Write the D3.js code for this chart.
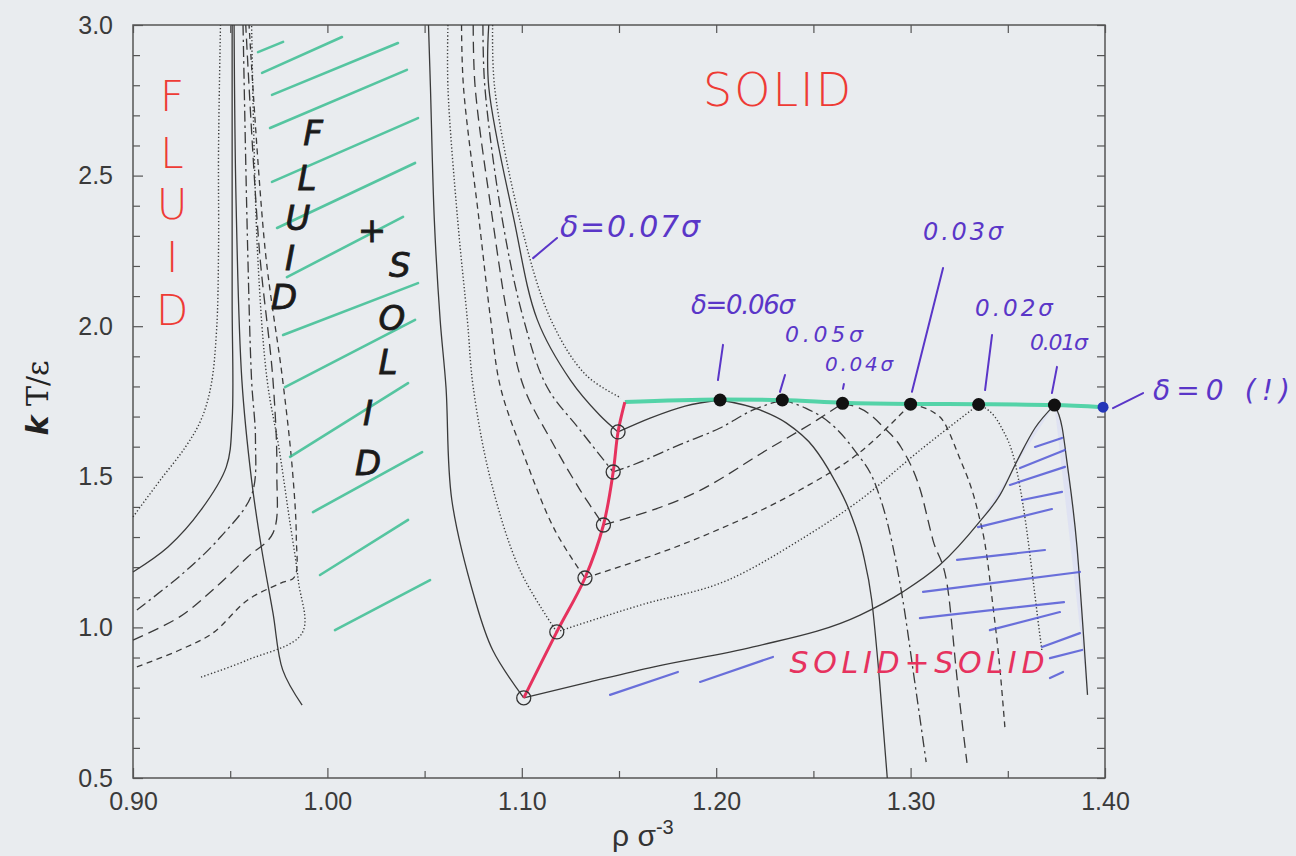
<!DOCTYPE html>
<html>
<head>
<meta charset="utf-8">
<script src="https://cdn.jsdelivr.net/npm/d3@7"></script>
<style>
  body { margin: 0; background: #e9ecef; }
  svg { display: block; }
</style>
</head>
<body>
<div id="chart"></div>
<script>
// ---- axis ticks ----
var xMajor = [0.90, 1.00, 1.10, 1.20, 1.30, 1.40];
var xMinor = [0.95, 1.05, 1.15, 1.25, 1.35];
var yMajor = [0.5, 1.0, 1.5, 2.0, 2.5, 3.0];
var yMinor = [0.6, 0.7, 0.8, 0.9, 1.1, 1.2, 1.3, 1.4, 1.6, 1.7, 1.8, 1.9, 2.1, 2.2, 2.3, 2.4, 2.6, 2.7, 2.8, 2.9];

// ---- fluid / fluid+solid boundaries (rho, T) ----
var fluid07 = [[0.900,1.367],[0.914,1.489],[0.927,1.599],[0.935,1.689],[0.940,1.798],[0.943,1.987],[0.944,2.253],[0.944,2.585],[0.945,3.0]];
var fluid06 = [[0.900,1.184],[0.918,1.267],[0.935,1.390],[0.948,1.533],[0.951,1.689],[0.951,2.087],[0.951,3.0]];
var fluid05 = [[0.902,1.058],[0.926,1.181],[0.945,1.300],[0.961,1.440],[0.963,1.622],[0.961,1.821],[0.959,2.253],[0.9566,3.0]];
var fluid04 = [[0.900,0.958],[0.924,1.035],[0.941,1.124],[0.959,1.234],[0.972,1.313],[0.974,1.513],[0.972,1.821],[0.965,2.253],[0.958,3.0]];
var fluid03 = [[0.902,0.869],[0.924,0.925],[0.941,0.981],[0.959,1.091],[0.976,1.147],[0.983,1.167],[0.984,1.300],[0.982,1.523],[0.977,1.821],[0.968,2.253],[0.9597,3.0]];
var fluid02 = [[0.935,0.835],[0.959,0.892],[0.987,0.981],[0.985,1.157],[0.980,1.380],[0.975,1.599],[0.969,1.821],[0.964,2.253],[0.961,3.0]];
var fluid01 = [[0.952,3.0],[0.953,2.419],[0.956,1.821],[0.961,1.489],[0.966,1.267],[0.972,1.048],[0.977,0.859],[0.987,0.742]];

// ---- solid boundaries coming down from the top ----
var mid01 = [[1.052,3.0],[1.053,2.794],[1.055,2.353],[1.058,2.021],[1.061,1.798],[1.064,1.423],[1.076,1.091],[1.085,0.925],[1.101,0.766]];
var mid02 = [[1.062,3.0],[1.062,2.794],[1.067,2.353],[1.072,2.021],[1.075,1.798],[1.084,1.489],[1.099,1.191],[1.118,0.985]];
var mid03 = [[1.069,3.0],[1.070,2.794],[1.078,2.353],[1.084,2.021],[1.089,1.798],[1.102,1.556],[1.117,1.323],[1.1325,1.164]];
var mid04 = [[1.075,3.0],[1.076,2.794],[1.085,2.353],[1.093,2.021],[1.101,1.798],[1.115,1.622],[1.130,1.456],[1.142,1.340]];
var mid05 = [[1.080,3.0],[1.081,2.794],[1.090,2.353],[1.101,2.021],[1.113,1.798],[1.130,1.655],[1.147,1.516]];
var mid06 = [[1.083,3.0],[1.083,2.794],[1.096,2.353],[1.108,2.021],[1.125,1.821],[1.140,1.705],[1.1495,1.649]];
var mid07 = [[1.085,3.0],[1.086,2.794],[1.099,2.353],[1.115,2.021],[1.133,1.838],[1.151,1.762]];

// ---- solid+solid dome, left branches (triple point -> critical point) ----
var low06 = [[1.1495,1.649],[1.166,1.695],[1.184,1.735],[1.202,1.755]];
var low05 = [[1.147,1.516],[1.157,1.539],[1.181,1.606],[1.202,1.662],[1.219,1.722],[1.234,1.755]];
var low04 = [[1.142,1.340],[1.192,1.456],[1.226,1.589],[1.252,1.689],[1.265,1.744]];
var low03 = [[1.1325,1.164],[1.192,1.300],[1.243,1.456],[1.274,1.582],[1.300,1.741]];
var low02 = [[1.118,0.985],[1.161,1.074],[1.206,1.157],[1.243,1.290],[1.274,1.423],[1.305,1.589],[1.335,1.740]];
var low01 = [[1.101,0.766],[1.135,0.819],[1.168,0.869],[1.219,0.935],[1.274,1.041],[1.296,1.118],[1.315,1.207],[1.335,1.347],[1.346,1.440],[1.355,1.556],[1.364,1.662],[1.374,1.738]];

// ---- right branches (critical point -> down) ----
var high06 = [[1.202,1.755],[1.2225,1.722],[1.236,1.679],[1.250,1.599],[1.260,1.499],[1.269,1.380],[1.2755,1.247],[1.280,1.091],[1.284,0.825],[1.288,0.5]];
var high05 = [[1.234,1.755],[1.246,1.728],[1.2585,1.679],[1.271,1.589],[1.282,1.473],[1.289,1.323],[1.296,1.091],[1.302,0.825],[1.308,0.553]];
var high04 = [[1.265,1.744],[1.278,1.712],[1.286,1.665],[1.295,1.599],[1.305,1.456],[1.3115,1.290],[1.319,1.134],[1.324,0.825],[1.329,0.550]];
var high03 = [[1.300,1.741],[1.315,1.699],[1.325,1.566],[1.334,1.400],[1.339,1.247],[1.342,1.091],[1.346,0.859],[1.3485,0.669]];
var high02 = [[1.335,1.740],[1.346,1.672],[1.354,1.539],[1.359,1.357],[1.363,1.157],[1.3655,1.025],[1.3675,0.925]];
var high01 = [[1.374,1.738],[1.378,1.662],[1.3805,1.546],[1.3856,1.267],[1.389,0.968],[1.391,0.776]];

// ---- triple points (red line) and critical points (green line) ----
var tripleRho = [1.101, 1.118, 1.1325, 1.142, 1.147, 1.1495, 1.153];
var tripleT   = [0.766, 0.985, 1.164, 1.340, 1.516, 1.649, 1.748];
var critRho = [1.202, 1.234, 1.265, 1.300, 1.335, 1.374];
var critT   = [1.755, 1.755, 1.744, 1.741, 1.740, 1.738];
var greenRho = [1.153, 1.202, 1.234, 1.265, 1.300, 1.335, 1.374, 1.399];
var greenT   = [1.748, 1.757, 1.755, 1.746, 1.742, 1.741, 1.738, 1.731];
var zeroRho = 1.399, zeroT = 1.731;

// ---- hand-drawn hatching (rho0, T0, rho1, T1) ----
var greenHatch = [
  [0.9643,2.910,0.9772,2.944],[0.9664,2.841,1.0075,2.960],[0.9715,2.768,1.0363,2.940],
  [0.9705,2.658,1.0409,2.851],[0.9715,2.479,1.0466,2.691],[0.9741,2.326,1.0451,2.542],
  [0.9792,2.163,1.0389,2.363],[0.9772,1.971,1.0466,2.143],[0.9782,1.798,1.0451,2.021],
  [0.9808,1.566,1.0415,1.811],[0.9926,1.383,1.0487,1.582],[0.9962,1.174,1.0415,1.357],
  [1.0039,0.991,1.0528,1.157]
];
var blueHatch = [
  [1.364,1.599,1.3779,1.629],[1.3563,1.529,1.3794,1.589],[1.3511,1.473,1.3794,1.533],
  [1.3573,1.423,1.3779,1.450],[1.3347,1.333,1.3727,1.393],[1.3239,1.224,1.3691,1.257],
  [1.3064,1.118,1.3871,1.184],[1.3048,1.031,1.3789,1.084],[1.3408,0.991,1.3768,1.051],
  [1.3676,0.935,1.3871,0.981],[1.3717,0.898,1.3882,0.925],[1.3717,0.832,1.3784,0.852],
  [1.1454,0.776,1.1803,0.852],[1.1917,0.819,1.2292,0.902]
];

// ---- delta labels ----
var deltaText = ["δ=0.07σ", "δ=0.06σ", "0.05σ", "0.04σ", "0.03σ", "0.02σ", "0.01σ", "δ=0 (!)"];
var deltaAt   = [[1.1196,2.296],[1.187,2.040],[1.2354,1.948],[1.2560,1.852],[1.3064,2.286],[1.3331,2.034],[1.3614,1.921],[1.4247,1.755]];
var deltaLen  = [140, 104, 78, 68, 80, 78, 58, 137];
var deltaSize = [30, 26, 22, 20, 24, 23, 22, 28];
var leaders = [
  [1.1058,2.226,1.1181,2.293],[1.2009,1.821,1.2035,1.938],[1.2328,1.782,1.2354,1.838],
  [1.2652,1.792,1.2657,1.808],[1.3007,1.782,1.3167,2.193],[1.3383,1.788,1.3419,1.971],
  [1.3727,1.778,1.3753,1.865],[1.4041,1.728,1.4196,1.778]
];

var W = 1296, H = 856;
var x = d3.scaleLinear().domain([0.9, 1.4]).range([133, 1105]);
var y = d3.scaleLinear().domain([0.5, 3.0]).range([778, 25]);

var svg = d3.select("#chart").append("svg").attr("width", W).attr("height", H);
svg.append("rect").attr("width", W).attr("height", H).attr("fill", "#e9ecef");

// axes
function styleAxis(g){
  g.select(".domain").remove();
  g.selectAll(".tick line").attr("stroke", "#555").attr("stroke-width", 1.2);
  g.selectAll(".tick text").attr("fill", "#3a3a3a").style("font-family", "'Liberation Sans', Arial, sans-serif").style("font-size", "25px");
}
svg.append("g").attr("transform", "translate(0," + y(0.5) + ")")
  .call(d3.axisBottom(x).tickValues(xMajor).tickSize(-10).tickPadding(14).tickFormat(d3.format(".2f"))).call(styleAxis);
svg.append("g").attr("transform", "translate(0," + y(0.5) + ")")
  .call(d3.axisBottom(x).tickValues(xMinor).tickSize(-7).tickFormat("")).call(styleAxis);
svg.append("g").attr("transform", "translate(0," + y(3.0) + ")")
  .call(d3.axisTop(x).tickValues(xMajor.concat(xMinor)).tickSize(-8).tickFormat("")).call(styleAxis);
svg.append("g").attr("transform", "translate(" + x(0.9) + ",0)")
  .call(d3.axisLeft(y).tickValues(yMajor).tickSize(-10).tickPadding(20).tickFormat(d3.format(".1f"))).call(styleAxis);
svg.append("g").attr("transform", "translate(" + x(0.9) + ",0)")
  .call(d3.axisLeft(y).tickValues(yMinor).tickSize(-7).tickFormat("")).call(styleAxis);
svg.append("g").attr("transform", "translate(" + x(1.4) + ",0)")
  .call(d3.axisRight(y).tickValues(yMajor.concat(yMinor)).tickSize(-8).tickFormat("")).call(styleAxis);

svg.append("rect")
  .attr("x", x(0.9)).attr("y", y(3.0))
  .attr("width", x(1.4) - x(0.9)).attr("height", y(0.5) - y(3.0))
  .attr("fill", "none").attr("stroke", "#555").attr("stroke-width", 1.5);

// axis titles
svg.append("text").attr("x", 612).attr("y", 846)
  .style("font-family", "'Liberation Sans', Arial, sans-serif").style("font-size", "30px").attr("fill", "#333")
  .text("ρ σ").append("tspan").attr("dy", -12).style("font-size", "20px").text("-3");
svg.append("text").attr("transform", "translate(48,398) rotate(-90)").attr("text-anchor", "middle")
  .style("font-family", "'DejaVu Serif', serif").style("font-size", "30px").attr("fill", "#222")
  .html("<tspan font-style='italic' font-family='DejaVu Sans' font-weight='bold'>k</tspan> T/ε");

// light tint of the hatched solid+solid area
var shade = low01.slice(7).concat(high01.slice().reverse());
svg.append("path").attr("d", d3.line().x(function(d){ return x(d[0]); }).y(function(d){ return y(d[1]); })(shade) + "Z")
  .attr("fill", "#d9dcf4").attr("opacity", 0.6);

// curves
var dash = { solid: null, dotted: "1.3,2.2", dash: "6,4.5", longdash: "11,6", dashdot: "11,4,2.5,4" };
var curves = [
  [fluid07,"dotted",0],[fluid06,"solid",0],[fluid05,"dashdot",0],[fluid04,"longdash",0],[fluid03,"dash",0],[fluid02,"dotted",0],[fluid01,"solid",0],
  [mid01,"solid",0],[mid02,"dotted",0],[mid03,"dash",0],[mid04,"longdash",0],[mid05,"dashdot",0],[mid06,"solid",0],[mid07,"dotted",0],
  [low06,"solid",1],[low05,"dashdot",1],[low04,"longdash",1],[low03,"dash",1],[low02,"dotted",1],[low01,"solid",1],
  [high06,"solid",1],[high05,"dashdot",1],[high04,"longdash",1],[high03,"dash",1],[high02,"dotted",1],[high01,"solid",1]
];
var lineC = d3.line().x(function(d){ return x(d[0]); }).y(function(d){ return y(d[1]); })
  .curve(d3.curveCatmullRom.alpha(0.5));
var lineM = d3.line().x(function(d){ return x(d[0]); }).y(function(d){ return y(d[1]); })
  .curve(d3.curveMonotoneX);
svg.append("g").selectAll("path").data(curves).enter().append("path")
  .attr("d", function(d){ return d[2] ? lineM(d[0]) : lineC(d[0]); })
  .attr("fill", "none").attr("stroke", "#3a3a3a")
  .attr("stroke-width", function(d){ return d[1] === "dotted" ? 1.4 : 1.3; })
  .attr("stroke-dasharray", function(d){ return dash[d[1]]; });

// hatching
svg.append("g").selectAll("line").data(greenHatch).enter().append("line")
  .attr("x1", function(d){ return x(d[0]); }).attr("y1", function(d){ return y(d[1]); })
  .attr("x2", function(d){ return x(d[2]); }).attr("y2", function(d){ return y(d[3]); })
  .attr("stroke", "#3cbf93").attr("stroke-width", 2.6).attr("stroke-linecap", "round").attr("opacity", 0.85);
svg.append("g").selectAll("line").data(blueHatch).enter().append("line")
  .attr("x1", function(d){ return x(d[0]); }).attr("y1", function(d){ return y(d[1]); })
  .attr("x2", function(d){ return x(d[2]); }).attr("y2", function(d){ return y(d[3]); })
  .attr("stroke", "#4a50d6").attr("stroke-width", 2.2).attr("stroke-linecap", "round").attr("opacity", 0.8);

// green critical line
svg.append("path").attr("d", lineM(d3.zip(greenRho, greenT)))
  .attr("fill", "none").attr("stroke", "#44d0a0").attr("stroke-width", 4).attr("opacity", 0.9);

// red triple line
svg.append("path").attr("d", lineC(d3.zip(tripleRho, tripleT)))
  .attr("fill", "none").attr("stroke", "#e6325e").attr("stroke-width", 3);
svg.append("g").selectAll("circle").data(d3.zip(tripleRho, tripleT).slice(0, 6)).enter().append("circle")
  .attr("cx", function(d){ return x(d[0]); }).attr("cy", function(d){ return y(d[1]); }).attr("r", 7)
  .attr("fill", "none").attr("stroke", "#333").attr("stroke-width", 1.3);

// critical points
svg.append("g").selectAll("circle").data(d3.zip(critRho, critT)).enter().append("circle")
  .attr("cx", function(d){ return x(d[0]); }).attr("cy", function(d){ return y(d[1]); }).attr("r", 6.5)
  .attr("fill", "#111");
svg.append("circle").attr("cx", x(zeroRho)).attr("cy", y(zeroT)).attr("r", 5.5).attr("fill", "#2436b8");

// handwritten annotations
var hand = "'DejaVu Sans', sans-serif";
var redLetters = ["F","L","U","I","D"], redLetterT = [2.761, 2.575, 2.405, 2.228, 2.052];
svg.append("g").selectAll("text").data(redLetters).enter().append("text")
  .attr("x", x(0.9201)).attr("y", function(d, i){ return y(redLetterT[i]); })
  .attr("text-anchor", "middle").attr("dominant-baseline", "central")
  .style("font-family", hand).style("font-size", "42px").style("font-weight", "200")
  .attr("fill", "#ee3b35").text(function(d){ return d; });

var blackLetters = ["F","L","U","I","D","+","S","O","L","I","D"];
var blackAt = [[0.9926,2.641],[0.9895,2.492],[0.9849,2.359],[0.9808,2.226],[0.9777,2.097],[1.0229,2.319],
               [1.0373,2.203],[1.0332,2.027],[1.0312,1.881],[1.0209,1.712],[1.0209,1.546]];
svg.append("g").selectAll("text").data(blackLetters).enter().append("text")
  .attr("x", function(d, i){ return x(blackAt[i][0]); }).attr("y", function(d, i){ return y(blackAt[i][1]); })
  .attr("text-anchor", "middle").attr("dominant-baseline", "central")
  .style("font-family", hand).style("font-size", "34px").style("font-style", "italic")
  .attr("fill", "#1a1a1a").attr("stroke", "#1a1a1a").attr("stroke-width", 0.8).text(function(d){ return d; });

svg.append("text").attr("x", x(1.2313)).attr("y", y(2.784)).attr("text-anchor", "middle").attr("dominant-baseline", "central")
  .style("font-family", hand).style("font-size", "46px").style("font-weight", "200")
  .attr("fill", "#ee3b35").attr("textLength", 148).text("SOLID");
svg.append("text").attr("x", x(1.3033)).attr("y", y(0.882)).attr("text-anchor", "middle").attr("dominant-baseline", "central")
  .style("font-family", hand).style("font-size", "30px").style("font-style", "italic")
  .attr("fill", "#e6325e").attr("textLength", 255).text("SOLID+SOLID");

// delta labels (purple)
svg.append("g").selectAll("line").data(leaders).enter().append("line")
  .attr("x1", function(d){ return x(d[0]); }).attr("y1", function(d){ return y(d[1]); })
  .attr("x2", function(d){ return x(d[2]); }).attr("y2", function(d){ return y(d[3]); })
  .attr("stroke", "#5a36c8").attr("stroke-width", 2).attr("stroke-linecap", "round");
svg.append("g").selectAll("text").data(deltaText).enter().append("text")
  .attr("x", function(d, i){ return x(deltaAt[i][0]); }).attr("y", function(d, i){ return y(deltaAt[i][1]); })
  .attr("textLength", function(d, i){ return deltaLen[i]; })
  .style("font-family", hand).style("font-style", "italic")
  .style("font-size", function(d, i){ return deltaSize[i] + "px"; })
  .attr("fill", "#5a36c8").text(function(d){ return d; });
</script>
</body>
</html>
